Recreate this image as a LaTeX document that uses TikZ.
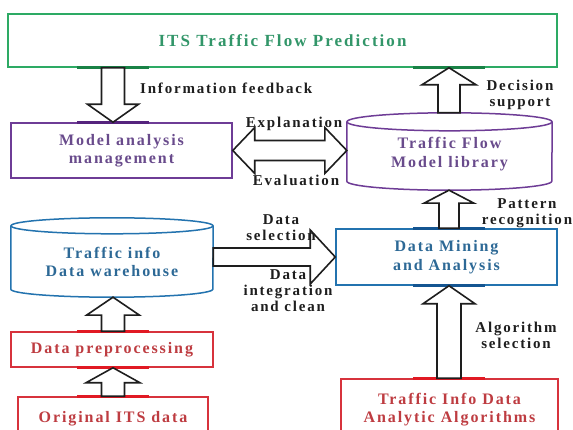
\documentclass[tikz,border=0pt]{standalone}
\usepackage{fontspec}
\setmainfont{Liberation Serif}[LetterSpace=12]
\usetikzlibrary{calc}
\definecolor{cgreen}{RGB}{45,170,100}
\definecolor{hgreen}{RGB}{25,130,70}
\definecolor{tgreen}{RGB}{50,150,105}
\definecolor{cpurple}{RGB}{110,60,150}
\definecolor{hpurple}{RGB}{85,35,125}
\definecolor{tpurple}{RGB}{105,75,140}
\definecolor{cblue}{RGB}{35,115,175}
\definecolor{hblue}{RGB}{20,85,145}
\definecolor{tblue}{RGB}{45,105,150}
\definecolor{cred}{RGB}{215,50,60}
\definecolor{hred}{RGB}{225,25,35}
\definecolor{tred}{RGB}{190,60,65}
\definecolor{ink}{RGB}{30,30,30}
\newcommand\varrow[5]{% start, end, shaft half width, head half width, head length
  \draw[blockarr] let \p1=#1, \p2=#2, \n1={sign(\y2-\y1)} in
   (\x2,\y2) -- (\x2+#4pt,\y2-\n1*#5pt) -- (\x2+#3pt,\y2-\n1*#5pt) -- (\x2+#3pt,\y1)
   -- (\x2-#3pt,\y1) -- (\x2-#3pt,\y2-\n1*#5pt) -- (\x2-#4pt,\y2-\n1*#5pt) -- cycle;}
\newcommand\hl[2]{% anchor point, colour: darker segment on an edge
  \draw[#2, line width=2.6pt] ($#1+(-36,0)$) -- ($#1+(36,0)$);}
\begin{document}
\begin{tikzpicture}[x=1pt,y=-1pt,
  box/.style={draw, line width=1.5pt, inner sep=0pt, font=\bfseries\fontsize{16}{18.5}\selectfont, align=center},
  holder/.style={inner sep=0pt},
  cyl/.style={line width=1.5pt},
  lbl/.style={font=\bfseries\fontsize{15}{16}\selectfont, align=center, text=ink, inner sep=0pt},
  blockarr/.style={draw=ink, line width=1.6pt, fill=white, line join=miter}]
\useasboundingbox (0,0) rectangle (573,430);
\clip (0,0) rectangle (573,430);
\fill[white] (0,0) rectangle (573,430);
% boxes
\node[box, draw=cgreen, text=tgreen, minimum width=549pt, minimum height=53pt,
  font=\bfseries\fontsize{17}{20}\selectfont] (its) at (282.5,40.5) {ITS Traffic Flow Prediction};
\node[box, draw=cpurple, text=tpurple, minimum width=221pt, minimum height=55pt] (mam) at (121.5,150.5) {Model analysis\\management};
\node[box, draw=cblue, text=tblue, minimum width=221pt, minimum height=56pt] (dm) at (446.5,257) {Data Mining\\and Analysis};
\node[box, draw=cred, text=tred, minimum width=202pt, minimum height=35pt] (pre) at (112,349.5) {Data preprocessing};
\node[box, draw=cred, text=tred, minimum width=190pt, minimum height=43pt] (orig) at (113,418.5) {Original ITS data};
\node[box, draw=cred, text=tred, minimum width=217pt, minimum height=61pt] (alg) at (449.5,409.5) {Traffic Info Data\\Analytic Algorithms};
% cylinders
\node[holder, minimum width=205pt, minimum height=77pt] (lib) at (449.5,151.5) {};
\node[box, draw=none, text=tpurple] (libt) at (449.5,154) {Traffic Flow\\Model library};
\draw[cyl, cpurple] ($(lib.north west)+(0,9)$) -- ($(lib.south west)+(0,-9)$)
  arc[start angle=180, end angle=360, x radius=102.5pt, y radius=9pt] -- ($(lib.north east)+(0,9)$);
\draw[cyl, cpurple] ($(lib.north)+(0,9)$) ellipse[x radius=102.5pt, y radius=9pt];
\node[holder, minimum width=202pt, minimum height=79pt] (wh) at (112,257.5) {};
\node[box, draw=none, text=tblue] (wht) at (112,262) {Traffic info\\Data warehouse};
\draw[cyl, cblue] ($(wh.north west)+(0,8)$) -- ($(wh.south west)+(0,-8)$)
  arc[start angle=180, end angle=360, x radius=101pt, y radius=8pt] -- ($(wh.north east)+(0,8)$);
\draw[cyl, cblue] ($(wh.north)+(0,8)$) ellipse[x radius=101pt, y radius=8pt];
% arrow x positions
\coordinate (xl) at (113,0);
\coordinate (xr) at (449,0);
% edge highlights
\hl{(its.south -| xl)}{hgreen}
\hl{(its.south -| xr)}{hgreen}
\hl{(mam.north -| xl)}{hpurple}
\hl{(pre.north -| xl)}{hred}
\hl{(pre.south -| xl)}{hred}
\hl{(orig.north -| xl)}{hred}
\hl{(dm.north -| xr)}{hblue}
\hl{(dm.south -| xr)}{hblue}
\hl{(alg.north -| xr)}{hred}
% vertical block arrows
\varrow{(its.south -| xl)}{(mam.north -| xl)}{11.5}{25.5}{18}
\varrow{(lib.north -| xr)}{(its.south -| xr)}{11}{27}{17}
\varrow{(dm.north -| xr)}{(lib.south -| xr)}{10}{25}{13}
\varrow{(alg.north -| xr)}{(dm.south -| xr)}{12}{26}{18}
\varrow{(pre.north -| xl)}{(wh.south -| xl)}{11.5}{26.5}{18}
\varrow{(orig.north -| xl)}{(pre.south -| xl)}{11.5}{27}{15}
% horizontal arrow warehouse -> mining
\draw[blockarr] let \p1=(wh.east), \p2=(dm.west) in
  (\x2,\y2) -- (\x2-25pt,\y2+27pt) -- (\x2-25pt,\y2+9pt) -- (\x1,\y2+9pt)
  -- (\x1,\y2-9pt) -- (\x2-25pt,\y2-9pt) -- (\x2-25pt,\y2-27pt) -- cycle;
% double arrow
\draw[blockarr] let \p1=(mam.east), \p2=(lib.west) in
  (\x1,\y1) -- (\x1+22pt,\y1+23pt) -- (\x1+22pt,\y1+10pt) -- (\x2-22pt,\y1+10pt)
  -- (\x2-22pt,\y1+23pt) -- (\x2,\y1) -- (\x2-22pt,\y1-23pt) -- (\x2-22pt,\y1-10pt)
  -- (\x1+22pt,\y1-10pt) -- (\x1+22pt,\y1-23pt) -- cycle;
% labels
\node[lbl, anchor=west] (l1) at (140,88) {Information feedback};
\node[lbl] (l2) at (520,95) {Decision\\support};
\node[lbl] (l3) at (294,124) {Explanation};
\node[lbl] (l4) at (296,180) {Evaluation};
\node[lbl] (l5) at (527,213) {Pattern\\recognition};
\node[lbl] (l6) at (281,228) {Data\\selection};
\node[lbl] (l7) at (288,291) {Data\\integration\\and clean};
\node[lbl] (l8) at (516,335) {Algorithm\\selection};
\end{tikzpicture}
\end{document}
